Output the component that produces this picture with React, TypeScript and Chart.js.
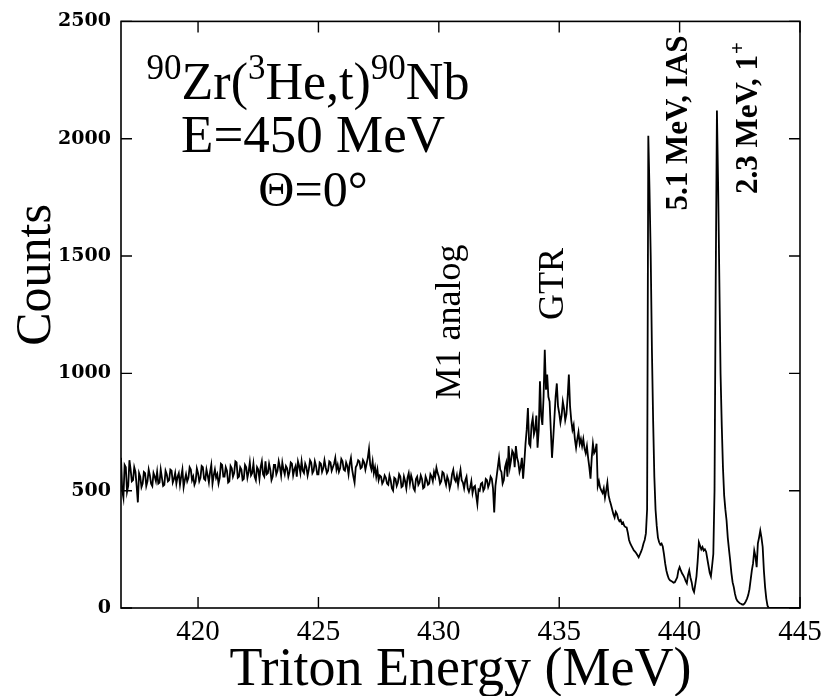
import React, { useEffect, useRef } from "react";
import { Chart, registerables } from "chart.js";

Chart.register(...registerables);

// Spectrum: counts per 0.05 MeV bin, starting at 416.80 MeV (20 bins per row)
const E_START = 416.8;
const E_STEP = 0.05;
const counts: number[] = [
  // 416.80 - 417.75
  640, 500, 470, 610, 600, 495, 520, 630, 590, 540, 545, 600, 580, 520, 450, 575, 560, 515, 530, 580,
  // 417.80 - 418.75
  575, 520, 540, 590, 565, 530, 520, 575, 560, 540, 580, 530, 535, 590, 555, 520, 525, 585, 570, 540,
  // 418.80 - 419.75
  545, 590, 585, 535, 550, 575, 530, 560, 575, 525, 560, 590, 515, 545, 570, 540, 555, 600, 590, 545,
  // 419.80 - 420.75
  560, 525, 540, 595, 575, 540, 555, 605, 600, 550, 545, 590, 565, 535, 580, 610, 530, 565, 590, 555,
  // 420.80 - 421.75
  570, 530, 555, 615, 610, 560, 560, 600, 585, 535, 540, 605, 595, 560, 575, 625, 620, 555, 560, 600,
  // 421.80 - 422.75
  590, 545, 550, 610, 600, 555, 580, 620, 565, 575, 615, 560, 545, 600, 590, 550, 600, 625, 570, 560,
  // 422.80 - 423.75
  625, 570, 575, 615, 590, 545, 560, 610, 610, 570, 585, 625, 600, 565, 620, 590, 570, 605, 595, 560,
  // 423.80 - 424.75
  580, 620, 615, 565, 590, 605, 560, 625, 605, 575, 625, 585, 575, 615, 600, 565, 590, 630, 620, 575,
  // 424.80 - 425.75
  585, 625, 605, 570, 570, 620, 615, 580, 595, 630, 600, 575, 585, 625, 620, 585, 600, 615, 640, 590,
  // 425.80 - 426.75
  610, 580, 595, 635, 625, 590, 585, 620, 605, 570, 615, 640, 590, 560, 535, 600, 610, 630, 625, 595,
  // 426.80 - 427.75
  600, 630, 620, 590, 615, 640, 678, 610, 590, 625, 575, 600, 560, 590, 545, 565, 560, 530, 540, 565,
  // 427.80 - 428.75
  555, 530, 525, 565, 545, 510, 500, 555, 550, 520, 535, 570, 560, 515, 520, 560, 540, 510, 555, 575,
  // 428.80 - 429.75
  530, 565, 545, 510, 500, 550, 560, 525, 535, 565, 550, 510, 515, 560, 545, 525, 530, 570, 560, 540,
  // 429.80 - 430.75
  580, 560, 598, 575, 560, 530, 540, 580, 575, 545, 525, 560, 545, 510, 530, 570, 589, 550, 540, 565,
  // 430.80 - 431.75
  525, 560, 589, 545, 535, 510, 545, 560, 510, 495, 513, 540, 490, 515, 520, 480, 443, 505, 500, 530,
  // 431.80 - 432.75
  534, 500, 510, 550, 545, 515, 530, 560, 551, 510, 407, 520, 560, 600, 640, 590, 580, 530, 545, 600,
  // 432.80 - 433.75
  620, 560, 690, 600, 630, 670, 660, 600, 690, 640, 620, 580, 600, 640, 551, 620, 700, 760, 852, 700,
  // 433.80 - 434.75
  690, 780, 810, 740, 760, 820, 683, 760, 966, 820, 780, 900, 1100, 930, 995, 900, 880, 760, 640, 720,
  // 434.80 - 435.75
  810, 900, 957, 860, 830, 790, 820, 880, 850, 800, 826, 900, 995, 860, 800, 760, 780, 720, 683, 720,
  // 435.80 - 436.75
  750, 700, 720, 690, 720, 680, 660, 690, 640, 600, 551, 640, 700, 660, 670, 700, 520, 540, 513, 500,
  // 436.80 - 437.75
  490, 510, 470, 500, 534, 480, 458, 440, 420, 400, 386, 410, 400, 380, 370, 375, 360, 365, 350, 345,
  // 437.80 - 438.75
  343, 320, 290, 275, 265, 255, 245, 240, 233, 225, 216, 228, 240, 255, 275, 290, 318, 420, 2013, 1780,
  // 438.80 - 439.75
  1500, 1100, 800, 560, 420, 350, 300, 280, 270, 275, 262, 230, 190, 160, 140, 125, 118, 115, 112, 108,
  // 439.80 - 440.75
  110, 120, 130, 160, 174, 160, 148, 140, 130, 115, 105, 140, 160, 130, 110, 80, 68, 100, 135, 200,
  // 440.80 - 441.75
  280, 265, 250, 260, 245, 250, 240, 210, 180, 150, 135, 180, 230, 500, 1400, 2120, 1800, 1400, 1000, 780,
  // 441.80 - 442.75
  600, 480, 420, 373, 300, 250, 203, 150, 110, 89, 60, 40, 30, 25, 20, 18, 15, 15, 20, 28,
  // 442.80 - 443.75
  40, 55, 80, 120, 160, 190, 245, 220, 174, 275, 300, 330, 300, 260, 160, 89, 40, 10, 0, 0,
  // 443.80 - 444.75
  0, 0, 0, 0, 0, 0, 0, 0, 0, 0, 0, 0, 0, 0, 0, 0, 0, 0, 0, 0,
  // 444.80 - 445.00
  0, 0, 0, 0, 0,
];

const energies: number[] = counts.map((_, i) => +(E_START + i * E_STEP).toFixed(2));

const xTicks = [420, 425, 430, 435, 440, 445];
const yTicks = [0, 500, 1000, 1500, 2000, 2500];
const X_MIN = 416.8;
const X_MAX = 445;
const Y_MIN = 0;
const Y_MAX = 2500;

const xTitle = "Triton Energy (MeV)";
const yTitle = "Counts";
const reactionLabel = [
  { t: "90", sup: true },
  { t: "Zr(", sup: false },
  { t: "3", sup: true },
  { t: "He,t)", sup: false },
  { t: "90", sup: true },
  { t: "Nb", sup: false },
];
const energyLabel = "E=450 MeV";
const angleLabel = "\u0398=0\u00B0";
const m1Label = "M1 analog";
const gtrLabel = "GTR";
const iasLabel = "5.1 MeV, IAS";
const oneLabel = "2.3 MeV, 1";

const SERIF = "'Liberation Serif', 'Times New Roman', serif";

const framePlugin = {
  id: "frameTicks",
  afterDatasetsDraw(chart: any) {
    const { ctx, chartArea } = chart;
    const xs = chart.scales.x;
    const ys = chart.scales.y;
    ctx.save();
    ctx.strokeStyle = "#000";
    ctx.lineWidth = 1.6;
    ctx.strokeRect(chartArea.left, chartArea.top, chartArea.right - chartArea.left, chartArea.bottom - chartArea.top);
    const tl = 11;
    ctx.lineWidth = 1.4;
    ctx.beginPath();
    for (const v of xTicks) {
      const px = xs.getPixelForValue(v);
      ctx.moveTo(px, chartArea.bottom);
      ctx.lineTo(px, chartArea.bottom - tl);
      ctx.moveTo(px, chartArea.top);
      ctx.lineTo(px, chartArea.top + tl);
    }
    for (const v of yTicks) {
      const py = ys.getPixelForValue(v);
      ctx.moveTo(chartArea.left, py);
      ctx.lineTo(chartArea.left + tl, py);
      ctx.moveTo(chartArea.right, py);
      ctx.lineTo(chartArea.right - tl, py);
    }
    ctx.stroke();
    ctx.restore();
  },
};

function rotText(ctx: CanvasRenderingContext2D, text: string, x: number, y: number, font: string, align: CanvasTextAlign = "center") {
  ctx.save();
  ctx.translate(x, y);
  ctx.rotate(-Math.PI / 2);
  ctx.font = font;
  ctx.textAlign = align;
  ctx.textBaseline = "alphabetic";
  ctx.fillText(text, 0, 0);
  ctx.restore();
}

const annotationPlugin = {
  id: "annotations",
  afterDraw(chart: any) {
    const ctx: CanvasRenderingContext2D = chart.ctx;
    ctx.save();
    ctx.fillStyle = "#000";
    ctx.textBaseline = "alphabetic";

    // reaction line with superscripts
    const big = `52px ${SERIF}`;
    const small = `35px ${SERIF}`;
    let total = 0;
    const widths = reactionLabel.map((s) => {
      ctx.font = s.sup ? small : big;
      const w = ctx.measureText(s.t).width;
      total += w;
      return w;
    });
    let x = 308 - total / 2;
    const base1 = 99;
    ctx.textAlign = "left";
    reactionLabel.forEach((s, i) => {
      ctx.font = s.sup ? small : big;
      ctx.fillText(s.t, x, s.sup ? base1 - 20 : base1);
      x += widths[i];
    });

    ctx.textAlign = "center";
    ctx.font = `53px ${SERIF}`;
    ctx.fillText(energyLabel, 313, 152);
    ctx.font = `50px ${SERIF}`;
    ctx.fillText(angleLabel, 313, 206);

    // y axis title
    rotText(ctx, yTitle, 50, 275, `50px ${SERIF}`);

    // peak labels
    rotText(ctx, m1Label, 460, 322, `36px ${SERIF}`);
    rotText(ctx, gtrLabel, 563, 284, `36px ${SERIF}`);
    rotText(ctx, iasLabel, 687, 123, `bold 31px ${SERIF}`);

    // 2.3 MeV, 1+
    ctx.save();
    ctx.translate(757, 194);
    ctx.rotate(-Math.PI / 2);
    ctx.font = `bold 31px ${SERIF}`;
    ctx.textAlign = "left";
    ctx.fillText(oneLabel, 0, 0);
    const w1 = ctx.measureText(oneLabel).width;
    ctx.font = `bold 21px ${SERIF}`;
    ctx.fillText("+", w1 + 1, -13);
    ctx.restore();

    ctx.restore();
  },
};

export default function App() {
  const canvasRef = useRef<HTMLCanvasElement | null>(null);

  useEffect(() => {
    if (!canvasRef.current) return;
    const chart = new Chart(canvasRef.current, {
      type: "line",
      data: {
        datasets: [
          {
            data: energies.map((e, i) => ({ x: e, y: counts[i] })),
            borderColor: "#000",
            borderWidth: 1.8,
            pointRadius: 0,
            tension: 0,
            fill: false,
          },
        ],
      },
      options: {
        animation: false,
        responsive: false,
        devicePixelRatio: 1,
        layout: { padding: { left: 0, right: 29, top: 18, bottom: 0 } },
        plugins: { legend: { display: false }, tooltip: { enabled: false } },
        scales: {
          x: {
            type: "linear",
            min: X_MIN,
            max: X_MAX,
            afterBuildTicks: (scale: any) => {
              scale.ticks = xTicks.map((v) => ({ value: v }));
            },
            afterFit: (scale: any) => {
              scale.height = 88;
            },
            grid: { display: false, drawTicks: false },
            border: { display: false },
            ticks: {
              color: "#000",
              padding: 7,
              maxRotation: 0,
              autoSkip: false,
              font: { family: SERIF, size: 29 },
              callback: (v: any) => String(v),
            },
            title: {
              display: true,
              text: xTitle,
              color: "#000",
              font: { family: SERIF, size: 54, lineHeight: 1 },
              padding: { top: 0, bottom: -2 },
            },
          },
          y: {
            type: "linear",
            min: Y_MIN,
            max: Y_MAX,
            afterBuildTicks: (scale: any) => {
              scale.ticks = yTicks.map((v) => ({ value: v }));
            },
            afterFit: (scale: any) => {
              scale.width = 121;
            },
            grid: { display: false, drawTicks: false },
            border: { display: false },
            ticks: {
              color: "#000",
              padding: 10,
              autoSkip: false,
              font: { family: "'DejaVu Serif', serif", size: 19, weight: "bold" },
              callback: (v: any) => String(v),
            },
          },
        },
      },
      plugins: [framePlugin, annotationPlugin],
    });
    return () => chart.destroy();
  }, []);

  return (
    <div style={{ position: "absolute", left: 0, top: 0, width: 829, height: 696, background: "#fff" }}>
      <canvas ref={canvasRef} width={829} height={696} style={{ display: "block" }} />
    </div>
  );
}
